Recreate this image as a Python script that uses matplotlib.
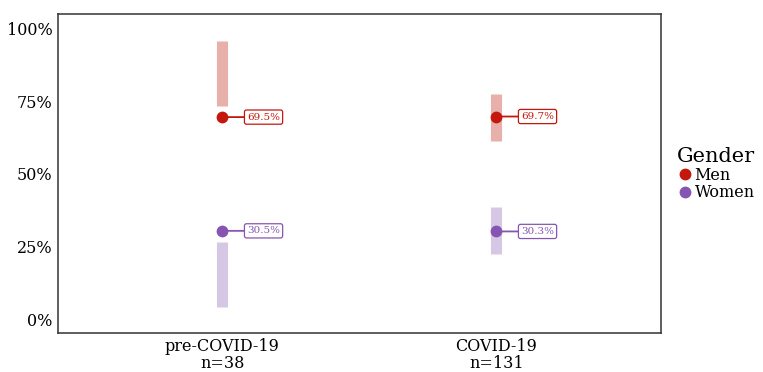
import numpy as np
import matplotlib.pyplot as plt
from matplotlib.lines import Line2D
import matplotlib.ticker as mticker

plt.rcParams['font.family'] = ['DejaVu Serif']

periods = ['pre-COVID-19\nn=38', 'COVID-19\nn=131']
genders = ['Men', 'Women']

share = {'Men': [0.695, 0.697], 'Women': [0.305, 0.303]}
interval_lo = {'Men': [0.733, 0.613], 'Women': [0.045, 0.226]}
interval_hi = {'Men': [0.955, 0.774], 'Women': [0.267, 0.387]}

point_col = {'Men': '#C4170E', 'Women': '#8655B1'}
band_col = {'Men': '#E8B0AA', 'Women': '#D6C8E5'}

fig = plt.figure(figsize=(7.63, 3.72), dpi=100)
ax = fig.add_axes([0.076, 0.105, 0.790, 0.857])

x = np.arange(1, len(periods) + 1)
for g in genders:
    lo = np.array(interval_lo[g])
    hi = np.array(interval_hi[g])
    ax.vlines(x, lo, hi, colors=band_col[g], linewidth=8, zorder=1)
    ax.scatter(x, share[g], s=72, color=point_col[g], zorder=3, linewidths=0)
    for xi, v in zip(x, share[g]):
        ax.annotate(f'{v*100:.1f}%', xy=(xi, v), xytext=(xi + 0.09, v),
                    textcoords='data', ha='left', va='center', fontsize=7.5,
                    color=point_col[g],
                    bbox=dict(boxstyle='round,pad=0.25,rounding_size=0.2',
                              fc='white', ec=point_col[g], lw=0.9),
                    arrowprops=dict(arrowstyle='-', color=point_col[g], lw=1.3,
                                    shrinkA=0, shrinkB=0),
                    zorder=2)

ax.set_xlim(0.4, 2.6)
ax.set_ylim(-0.045, 1.048)
ax.set_xticks(x)
ax.set_xticklabels(periods, fontsize=11.5, linespacing=1.0)
ax.set_yticks([0, 0.25, 0.5, 0.75, 1.0])
ax.yaxis.set_major_formatter(mticker.PercentFormatter(1.0, decimals=0))
ax.tick_params(axis='y', length=0, labelsize=11.5, pad=4)
ax.tick_params(axis='x', length=0, pad=4)
for s in ax.spines.values():
    s.set_color('#333333')
    s.set_linewidth(1.1)

handles = [Line2D([], [], marker='o', linestyle='none', markersize=7.5,
                  color=point_col[g], label=g) for g in genders]
leg = fig.legend(handles=handles, title='Gender', loc='center left',
                 bbox_to_anchor=(0.879, 0.532), frameon=False, fontsize=11.5,
                 title_fontsize=15, handletextpad=0.1, labelspacing=0.05,
                 borderaxespad=0, handlelength=1.0)
leg._legend_box.align = 'left'

fig.savefig('out.png', dpi=100)
